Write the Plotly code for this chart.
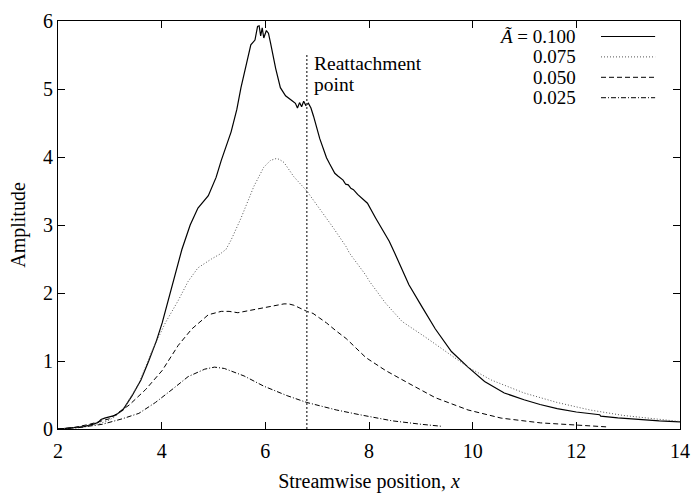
import plotly.graph_objects as go

# Disturbance amplitude along the streamwise direction for four forcing levels
x_a100 = [2.0, 2.3, 2.5, 2.7, 2.78, 2.83, 2.9, 3.1, 3.25, 3.43, 3.6, 3.75, 3.9, 4.01, 4.2, 4.39,
          4.55, 4.7, 4.9, 5.05, 5.15, 5.34, 5.45, 5.53, 5.63, 5.72, 5.8, 5.85, 5.88, 5.91, 5.94,
          5.97, 6.02, 6.06, 6.1, 6.2, 6.29, 6.39, 6.51, 6.58, 6.62, 6.66, 6.7, 6.74, 6.78, 6.83,
          6.88, 6.93, 7.05, 7.18, 7.24, 7.34, 7.4, 7.45, 7.5, 7.55, 7.6, 7.65, 7.7, 7.78, 7.88,
          7.97, 8.13, 8.26, 8.39, 8.5, 8.58, 8.77, 9.02, 9.28, 9.59, 9.91, 10.23, 10.61, 10.99,
          11.3, 11.63, 12.0, 12.45, 12.47, 12.8, 13.2, 13.6, 14.0]
y_a100 = [0.0, 0.015, 0.035, 0.075, 0.1, 0.14, 0.16, 0.2, 0.28, 0.49, 0.72, 1.0, 1.3, 1.56, 2.08, 2.64,
          3.0, 3.25, 3.43, 3.7, 3.95, 4.37, 4.7, 5.02, 5.35, 5.65, 5.72, 5.92, 5.93, 5.78, 5.9,
          5.75, 5.86, 5.82, 5.68, 5.30, 5.02, 4.9, 4.83, 4.79, 4.72, 4.8, 4.74, 4.82, 4.76, 4.79,
          4.72, 4.6, 4.27, 3.99, 3.9, 3.76, 3.72, 3.69, 3.66, 3.6, 3.59, 3.54, 3.52, 3.45, 3.38,
          3.32, 3.10, 2.93, 2.76, 2.58, 2.44, 2.12, 1.8, 1.47, 1.14, 0.91, 0.70, 0.53, 0.43,
          0.36, 0.30, 0.25, 0.21, 0.19, 0.165, 0.14, 0.12, 0.105]

x_a075 = [2.0, 2.4, 2.7, 2.93, 3.1, 3.31, 3.56, 3.81, 4.07, 4.32, 4.51, 4.7, 4.96, 5.12, 5.24, 5.34,
          5.53, 5.66, 5.78, 5.97, 6.1, 6.22, 6.28, 6.36, 6.55, 6.8, 7.05, 7.18, 7.31, 7.56, 7.62,
          7.94, 8.01, 8.32, 8.64, 9.09, 9.53, 9.91, 10.36, 10.99, 11.63, 12.26, 12.9, 13.53, 14.0]
y_a075 = [0.0, 0.02, 0.06, 0.11, 0.18, 0.35, 0.67, 1.14, 1.56, 1.89, 2.17, 2.37, 2.5, 2.57, 2.64, 2.78,
          3.1, 3.34, 3.57, 3.85, 3.95, 3.98, 3.96, 3.92, 3.71, 3.5, 3.24, 3.1, 2.96, 2.68, 2.59,
          2.26, 2.17, 1.85, 1.58, 1.35, 1.12, 0.91, 0.72, 0.53, 0.39, 0.28, 0.2, 0.145, 0.11]

x_a050 = [2.0, 2.3, 2.61, 2.99, 3.37, 3.69, 4.01, 4.32, 4.58, 4.9, 5.15, 5.3, 5.47, 5.6, 5.72, 6.04,
          6.36, 6.45, 6.55, 6.8, 6.92, 7.05, 7.18, 7.37, 7.56, 7.94, 8.32, 8.77, 9.28, 9.91, 10.55,
          11.31, 11.94, 12.61]
y_a050 = [0.0, 0.02, 0.07, 0.15, 0.35, 0.58, 0.86, 1.23, 1.47, 1.68, 1.73, 1.73, 1.71, 1.73, 1.75, 1.8,
          1.84, 1.84, 1.82, 1.73, 1.7, 1.63, 1.56, 1.44, 1.33, 1.05, 0.86, 0.67, 0.46, 0.28, 0.16,
          0.09, 0.066, 0.03]

x_a025 = [2.0, 2.4, 2.86, 3.24, 3.56, 3.88, 4.2, 4.51, 4.83, 5.02, 5.21, 5.59, 5.97, 6.42, 6.8, 7.18,
          7.37, 7.82, 8.45, 9.0, 9.4]
y_a025 = [0.0, 0.02, 0.07, 0.15, 0.23, 0.39, 0.58, 0.77, 0.88, 0.91, 0.89, 0.78, 0.63, 0.49, 0.39, 0.31,
          0.28, 0.21, 0.12, 0.07, 0.04]

legend_labels = ["<i>Ã</i> = 0.100", "0.075", "0.050", "0.025"]
reattach_x = 6.8
reattach_top = 5.5
reattach_lines = ["Reattachment", "point"]

FONT = "Liberation Serif, Times New Roman, Times, serif"
series = [
    (x_a100, y_a100, "black", 1.2, "solid"),
    (x_a075, y_a075, "#555555", 1.0, "1px,2px"),
    (x_a050, y_a050, "black", 1.0, "5px,3px"),
    (x_a025, y_a025, "black", 1.0, "5px,2px,1px,2px"),
]

fig = go.Figure()
for xs, ys, col, w, dash in series:
    fig.add_trace(go.Scatter(x=xs, y=ys, mode="lines", showlegend=False,
                             line=dict(color=col, width=w, dash=dash)))

# reattachment marker and its two-line caption
fig.add_shape(type="line", xref="x", yref="y", x0=reattach_x, x1=reattach_x, y0=0, y1=reattach_top,
              line=dict(color="#555555", width=1.5, dash="2px,2px"))
for i, line_text in enumerate(reattach_lines):
    fig.add_annotation(x=reattach_x, y=reattach_top, xref="x", yref="y", xanchor="left",
                       yanchor="middle", xshift=5, yshift=-8 - 21 * i, showarrow=False,
                       text=line_text, font=dict(family=FONT, size=19.5, color="black"))

# key: right-aligned labels with line samples to their right
row_y = [0.962, 0.912, 0.862, 0.812]
for (xs, ys, col, w, dash), lab, yy in zip(series, legend_labels, row_y):
    fig.add_annotation(x=0.836, y=yy, xref="paper", yref="paper", xanchor="right", yanchor="middle",
                       showarrow=False, text=lab, font=dict(family=FONT, size=19, color="black"))
    fig.add_shape(type="line", xref="paper", yref="paper", x0=0.873, x1=0.96, y0=yy, y1=yy,
                  line=dict(color=col, width=w, dash=dash))

axis_common = dict(showline=True, linecolor="black", linewidth=1, mirror="ticks", ticks="inside",
                   ticklen=7, tickwidth=1, tickcolor="black", showgrid=False, zeroline=False,
                   tickfont=dict(family=FONT, size=20, color="black"))

fig.update_layout(
    width=700, height=498,
    margin=dict(l=58, r=12, t=10, b=60),
    paper_bgcolor="white", plot_bgcolor="white",
    font=dict(family=FONT, size=20, color="black"),
    xaxis=dict(range=[2, 14], dtick=2, tick0=2, ticklabelstandoff=4,
               title=dict(text="Streamwise position, <i>x</i>", standoff=12,
                          font=dict(family=FONT, size=20)), **axis_common),
    yaxis=dict(range=[0, 6], dtick=1,
               title=dict(text="Amplitude", standoff=12, font=dict(family=FONT, size=20)),
               **axis_common),
)

fig.write_html("out.html")
